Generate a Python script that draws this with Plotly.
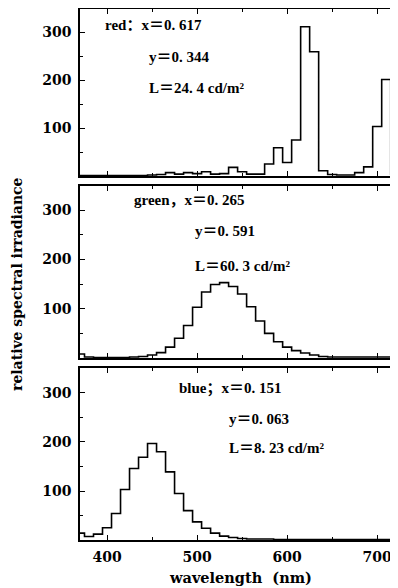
import plotly.graph_objects as go

# ---------------- data ----------------
bin_centers = list(range(370, 730, 10))  # nm, 10 nm bins
red_values = [1, 1, 1, 1, 1, 1, 1, 1, 2, 3, 7, 4, 7, 5, 9, 4, 5, 18, 9, 4, 4,
              25, 59, 28, 75, 311, 259, 11, 3, 2, 2, 7, 19, 103, 201, 3]
green_values = [8, 2, 1, 1, 1, 1, 2, 3, 6, 11, 22, 40, 66, 103, 134, 149, 153, 145,
                130, 104, 75, 50, 33, 22, 15, 10, 6, 3, 2, 2, 2, 2, 2, 2, 2, 2]
blue_values = [14, 7, 12, 25, 54, 103, 146, 169, 197, 180, 139, 95, 60, 37, 24, 14,
               8, 5, 3, 2, 2, 2, 1, 1, 1, 1, 1, 1, 1, 1, 1, 1, 1, 1, 1, 1]

panel_labels = [
    ["red：x＝0. 617", "y＝0. 344", "L＝24. 4 cd/m²"],
    ["green，x＝0. 265", "y＝0. 591", "L＝60. 3 cd/m²"],
    ["blue；x＝0. 151", "y＝0. 063", "L＝8. 23 cd/m²"],
]
x_tick_vals = [400, 500, 600, 700]
y_tick_vals = [100, 200, 300]
x_title = "wavelength\u00a0\u00a0(nm)"
y_title = "relative spectral irradiance"

# ---------------- layout geometry ----------------
OFF = 8  # page body margin in the browser
W, H = 398 - OFF, 588 - OFF
ML, MR, MT, MB = 80 - OFF, 1, 1, 48
PW, PH = W - ML - MR, H - MT - MB


def px_x(sx):
    return (sx - OFF - ML) / PW


def px_y(sy):
    return (H - MB - (sy - OFF)) / PH


panel_px = [(9, 176), (186, 358), (368, 540)]  # top, bottom in screen pixels
y_ranges = [[0, 348], [0, 349], [0, 351]]
x_range = [370, 722]

edges = [c - 5 for c in bin_centers] + [bin_centers[-1] + 5]

serif = "DejaVu Serif"
fig = go.Figure()

series = [red_values, green_values, blue_values]
for i, vals in enumerate(series):
    n = "" if i == 0 else str(i + 1)
    fig.add_trace(go.Scatter(
        x=edges, y=list(vals) + [vals[-1]],
        mode="lines", line=dict(color="black", width=1.6, shape="hv"),
        xaxis="x" + n, yaxis="y" + n, showlegend=False, hoverinfo="skip",
        cliponaxis=True,
    ))

axis_common = dict(
    showline=True, linecolor="black", linewidth=1.6, mirror="ticks",
    ticks="inside", ticklen=5, tickwidth=1.3, tickcolor="black",
    showgrid=False, zeroline=False, automargin=False,
    tickfont=dict(family=serif, size=14, color="black", weight="bold"),
)

layout = dict(
    width=W, height=H, margin=dict(l=ML, r=MR, t=MT, b=MB, autoexpand=False),
    paper_bgcolor="white", plot_bgcolor="white",
    showlegend=False,
)

for i, (top, bot) in enumerate(panel_px):
    n = "" if i == 0 else str(i + 1)
    dom_y = [px_y(bot), px_y(top)]
    xa = dict(axis_common)
    xa.update(domain=[0, 1], range=x_range, anchor="y" + n,
              tickvals=x_tick_vals,
              minor=dict(tickvals=[450, 550, 650], ticks="inside", ticklen=3,
                         tickcolor="black"),
              showticklabels=(i == 2), ticklabelstandoff=3)
    ya = dict(axis_common)
    ya.update(domain=dom_y, range=y_ranges[i], anchor="x" + n,
              tickvals=y_tick_vals,
              minor=dict(tickvals=[50, 150, 250], ticks="inside", ticklen=3,
                         tickcolor="black"),
              ticklabelstandoff=4)
    layout["xaxis" + n] = xa
    layout["yaxis" + n] = ya

fig.update_layout(**layout)

# panel text
text_pos = [
    [(103, 25), (147, 57), (147, 88)],
    [(132, 200), (193, 231), (193, 266)],
    [(177, 388), (227, 419), (227, 448)],
]
for lines, poss in zip(panel_labels, text_pos):
    for t, (px, py) in zip(lines, poss):
        fig.add_annotation(
            x=px_x(px), y=px_y(py), xref="paper", yref="paper",
            text=t, showarrow=False, xanchor="left", yanchor="middle",
            font=dict(family="Liberation Serif, Noto Sans CJK SC", size=15,
                      color="black", weight="bold"),
        )

# axis titles
fig.add_annotation(
    x=px_x(240), y=px_y(577), xref="paper", yref="paper", text=x_title,
    showarrow=False, xanchor="center", yanchor="middle",
    font=dict(family=serif, size=14.5, color="black", weight="bold"),
)
fig.add_annotation(
    x=px_x(17), y=px_y(284), xref="paper", yref="paper", text=y_title,
    showarrow=False, xanchor="center", yanchor="middle", textangle=-90,
    font=dict(family=serif, size=14, color="black", weight="bold"),
)

fig.write_html("out.html")
